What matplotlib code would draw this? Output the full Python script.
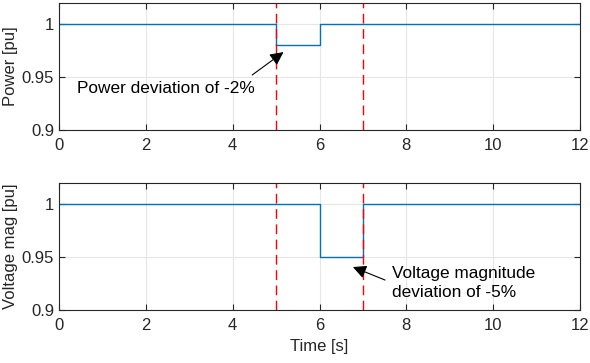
import matplotlib.pyplot as plt

plt.rcParams['font.family'] = ['Liberation Sans', 'DejaVu Sans']

# step data
t_power = [0, 5, 5, 6, 6, 12]
power = [1, 1, 0.98, 0.98, 1, 1]
t_volt = [0, 6, 6, 7, 7, 12]
volt = [1, 1, 0.95, 0.95, 1, 1]
event_times = [5, 7]
xticks = [0, 2, 4, 6, 8, 10, 12]
yticks = [0.9, 0.95, 1]
ytick_labels = ['0.9', '0.95', '1']

blue = '#0072BD'
dark = '#262626'
fs = 12

fig = plt.figure(figsize=(5.9, 3.63), dpi=100)
ax1 = fig.add_axes([59 / 590, 1 - 130 / 363, 521 / 590, 127 / 363])
ax2 = fig.add_axes([59 / 590, 1 - 310 / 363, 521 / 590, 127 / 363])


def style(ax, ylabel):
    ax.set_xlim(0, 12)
    ax.set_ylim(0.9, 1.02)
    ax.set_xticks(xticks)
    ax.set_yticks(yticks)
    ax.set_yticklabels(ytick_labels)
    ax.grid(True, color='#e6e6e6', lw=0.8)
    ax.set_axisbelow(True)
    ax.tick_params(direction='in', top=True, right=True, length=4,
                   colors=dark, labelsize=fs, labelcolor=dark)
    ax.tick_params(axis='x', pad=6)
    for s in ax.spines.values():
        s.set_color(dark)
        s.set_linewidth(0.8)
    ax.set_ylabel(ylabel, fontsize=fs, color=dark, labelpad=3)


arrow = dict(arrowstyle='-|>', color='k', lw=0.8, mutation_scale=20,
             shrinkA=0, shrinkB=0)

ax1.plot(t_power, power, color=blue, lw=1)
for te in event_times:
    ax1.axvline(te, color='red', ls=(0, (7, 4)), lw=1)
style(ax1, 'Power [pu]')
ax1.text(0.42, 0.9396, 'Power deviation of -2%', fontsize=12.4, va='center', ha='left', color='k')
ax1.annotate('', xy=(5.17, 0.9736), xytext=(4.45, 0.952), arrowprops=arrow)

ax2.plot(t_volt, volt, color=blue, lw=1)
for te in event_times:
    ax2.axvline(te, color='red', ls=(0, (7, 4)), lw=1)
style(ax2, 'Voltage mag [pu]')
ax2.set_xlabel('Time [s]', fontsize=fs, color=dark, labelpad=4)
ax2.text(7.68, 0.9255, 'Voltage magnitude\ndeviation of -5%', fontsize=12.4,
         va='center', ha='left', color='k', linespacing=1.3)
ax2.annotate('', xy=(6.77, 0.9406), xytext=(7.51, 0.9283), arrowprops=arrow)

fig.savefig('out.png', dpi=100)
